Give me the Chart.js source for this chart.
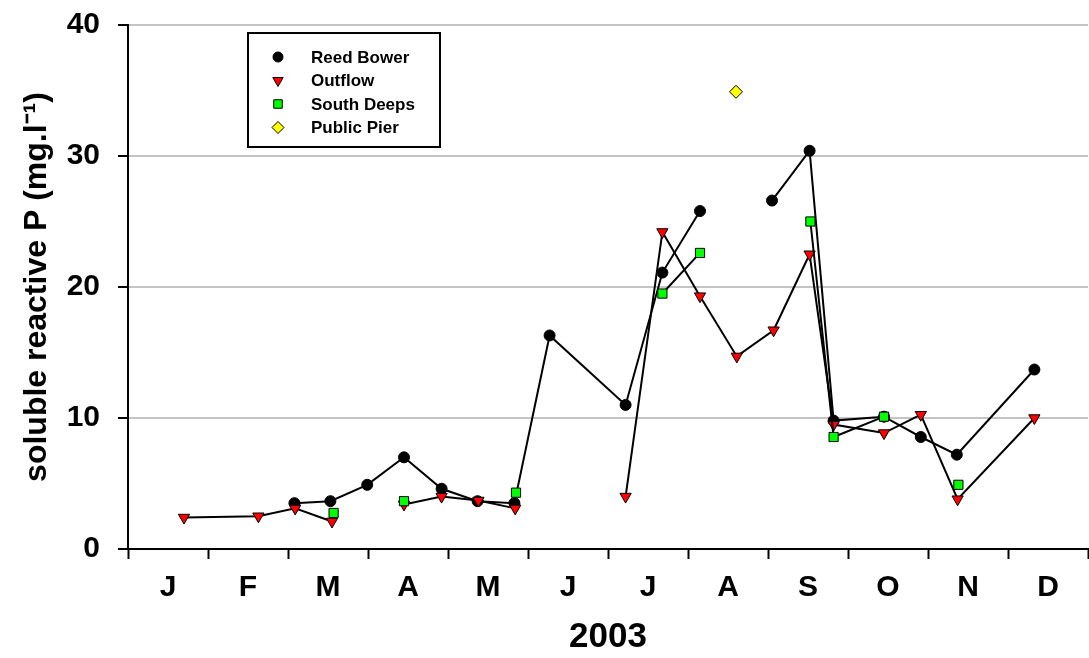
<!DOCTYPE html>
<html>
<head>
<meta charset="utf-8">
<script src="https://cdn.jsdelivr.net/npm/chart.js@4/dist/chart.umd.min.js"></script>
<style>
  html, body { margin: 0; padding: 0; background: #fff; }
  #wrap { position: relative; width: 1089px; height: 658px; }
</style>
</head>
<body>
<div id="wrap"><canvas id="myChart"></canvas></div>
<script>
// month labels, x values are in months since 1 Jan 2003
const monthLabels = ['J', 'F', 'M', 'A', 'M', 'J', 'J', 'A', 'S', 'O', 'N', 'D'];
const yTicks = [0, 10, 20, 30, 40];

// Reed Bower (null = break in line)
const rbX = [2.08, 2.53, 2.99, 3.45, 3.92, 4.37, 4.83, 5.27, 6.22, 6.68, 7.15, 7.60, 8.05, 8.52, 8.82, 9.45, 9.91, 10.36, 11.33];
const rbY = [3.5, 3.65, 4.9, 7.0, 4.6, 3.65, 3.5, 16.3, 11.0, 21.1, 25.8, null, 26.6, 30.4, 9.8, 10.1, 8.55, 7.2, 13.7];

// Outflow
const ofX = [0.70, 1.63, 2.09, 2.55, 3.00, 3.45, 3.92, 4.38, 4.84, 5.50, 6.22, 6.68, 7.15, 7.61, 8.07, 8.52, 8.82, 9.45, 9.91, 10.37, 11.33];
const ofY = [2.4, 2.5, 3.1, 2.1, null, 3.4, 4.0, 3.7, 3.1, null, 4.0, 24.2, 19.3, 14.7, 16.7, 22.5, 9.5, 8.85, 10.25, 3.8, 10.0];

// South Deeps
const sdX = [2.57, 3.00, 3.45, 4.00, 4.85, 5.50, 6.68, 7.15, 7.80, 8.53, 8.82, 9.45, 10.00, 10.38];
const sdY = [2.75, null, 3.65, null, 4.3, null, 19.5, 22.6, null, 25.0, 8.55, 10.1, null, 4.9];

// Public Pier
const ppX = [7.60];
const ppY = [34.9];

function toPoints(xs, ys){
	return xs.map((x, i) => ({x: x, y: ys[i]}));
}

const series = [
	{label: 'Reed Bower',  xs: rbX, ys: rbY, style: 'circle',   fill: '#000000', radius: 5.5, rotation: 0,   order: 3},
	{label: 'Outflow',     xs: ofX, ys: ofY, style: 'triangle', fill: '#ff0000', radius: 6.5, rotation: 180, order: 2},
	{label: 'South Deeps', xs: sdX, ys: sdY, style: 'rect',     fill: '#00ff00', radius: 6.5, rotation: 0,   order: 1},
	{label: 'Public Pier', xs: ppX, ys: ppY, style: 'rectRot',  fill: '#ffff00', radius: 6.5, rotation: 0,   order: 0}
];

// legend box drawn inside the plot, like the original
const boxLegend = {
	id: 'boxLegend',
	afterDraw(chart){
		const ctx = chart.ctx;
		const left = 248, top = 33, w = 192, h = 114;
		ctx.save();
		ctx.lineWidth = 2;
		ctx.strokeStyle = '#000';
		ctx.fillStyle = '#fff';
		ctx.fillRect(left, top, w, h);
		ctx.strokeRect(left, top, w, h);
		ctx.font = 'bold 17px "Liberation Sans", Arial, sans-serif';
		ctx.textBaseline = 'middle';
		series.forEach((s, i) => {
			const y = 57 + i * 23.5;
			ctx.fillStyle = s.fill;
			ctx.strokeStyle = '#000';
			ctx.lineWidth = 1;
			Chart.helpers.drawPoint(ctx, {pointStyle: s.style, radius: s.style === 'circle' ? 5 : 6, rotation: s.rotation, borderWidth: 1}, 278, y);
			ctx.fillStyle = '#000';
			ctx.fillText(s.label, 311, y + 1);
		});
		ctx.restore();
	}
};

function getChartData(){
	return {
		datasets: series.map(s => ({
			label: s.label,
			data: toPoints(s.xs, s.ys),
			borderColor: '#000',
			borderWidth: 2,
			showLine: true,
			spanGaps: false,
			pointStyle: s.style,
			pointRadius: s.radius,
			pointRotation: s.rotation,
			pointBackgroundColor: s.fill,
			pointBorderColor: '#000',
			pointBorderWidth: 1,
			order: s.order,
			tension: 0
		}))
	};
}

function getChartOptions(){
	const tickFont = {family: '"Liberation Sans", Arial, sans-serif', size: 30, weight: 'bold'};
	return {
		responsive: true,
		maintainAspectRatio: false,
		animation: false,
		layout: {autoPadding: false, padding: {top: 25, right: 1, bottom: 0, left: 0}},
		plugins: {
			legend: {display: false},
			tooltip: {enabled: false}
		},
		scales: {
			x: {
				type: 'linear',
				min: 0,
				max: 12,
				afterBuildTicks: scale => {
					const t = [];
					for (let v = 0; v <= 24; v++) t.push({value: v / 2});
					scale.ticks = t;
				},
				afterFit: scale => {
					scale.height = 109;
					scale.paddingLeft = 0;
					scale.paddingRight = 0;
				},
				ticks: {
					autoSkip: false,
					maxRotation: 0,
					padding: 11,
					color: '#000',
					font: tickFont,
					callback: v => Number.isInteger(v) ? '' : monthLabels[Math.floor(v)]
				},
				grid: {
					drawOnChartArea: false,
					tickLength: 10,
					tickWidth: 2,
					tickColor: c => Number.isInteger(c.tick.value) ? '#000' : 'rgba(0,0,0,0)'
				},
				border: {color: '#000', width: 2},
				title: {
					display: true,
					text: '2003',
					color: '#000',
					padding: {top: 0, bottom: 0},
					font: {family: '"Liberation Sans", Arial, sans-serif', size: 35, weight: 'bold'}
				}
			},
			y: {
				min: 0,
				max: 40,
				afterBuildTicks: scale => { scale.ticks = yTicks.map(v => ({value: v})); },
				afterFit: scale => {
					scale.width = 128;
					scale.paddingTop = 0;
					scale.paddingBottom = 0;
				},
				ticks: {
					padding: 18,
					color: '#000',
					font: tickFont
				},
				grid: {
					color: c => c.tick.value === 0 ? 'rgba(0,0,0,0)' : '#c4c4c4',
					lineWidth: 2,
					tickLength: 10,
					tickWidth: 2,
					tickColor: '#000'
				},
				border: {color: '#000', width: 2},
				title: {
					display: true,
					text: 'soluble reactive P (mg.l\u207B\u00B9)',
					color: '#000',
					padding: {top: 18, bottom: 0},
					font: {family: '"Liberation Sans", Arial, sans-serif', size: 32, weight: 'bold'}
				}
			}
		}
	};
}

window.onload = ()=>{
	const ctx = document.getElementById('myChart');
	new Chart(ctx, {
		type: 'scatter',
		data: getChartData(),
		options: getChartOptions(),
		plugins: [boxLegend]
	});
}
</script>
</body>
</html>
